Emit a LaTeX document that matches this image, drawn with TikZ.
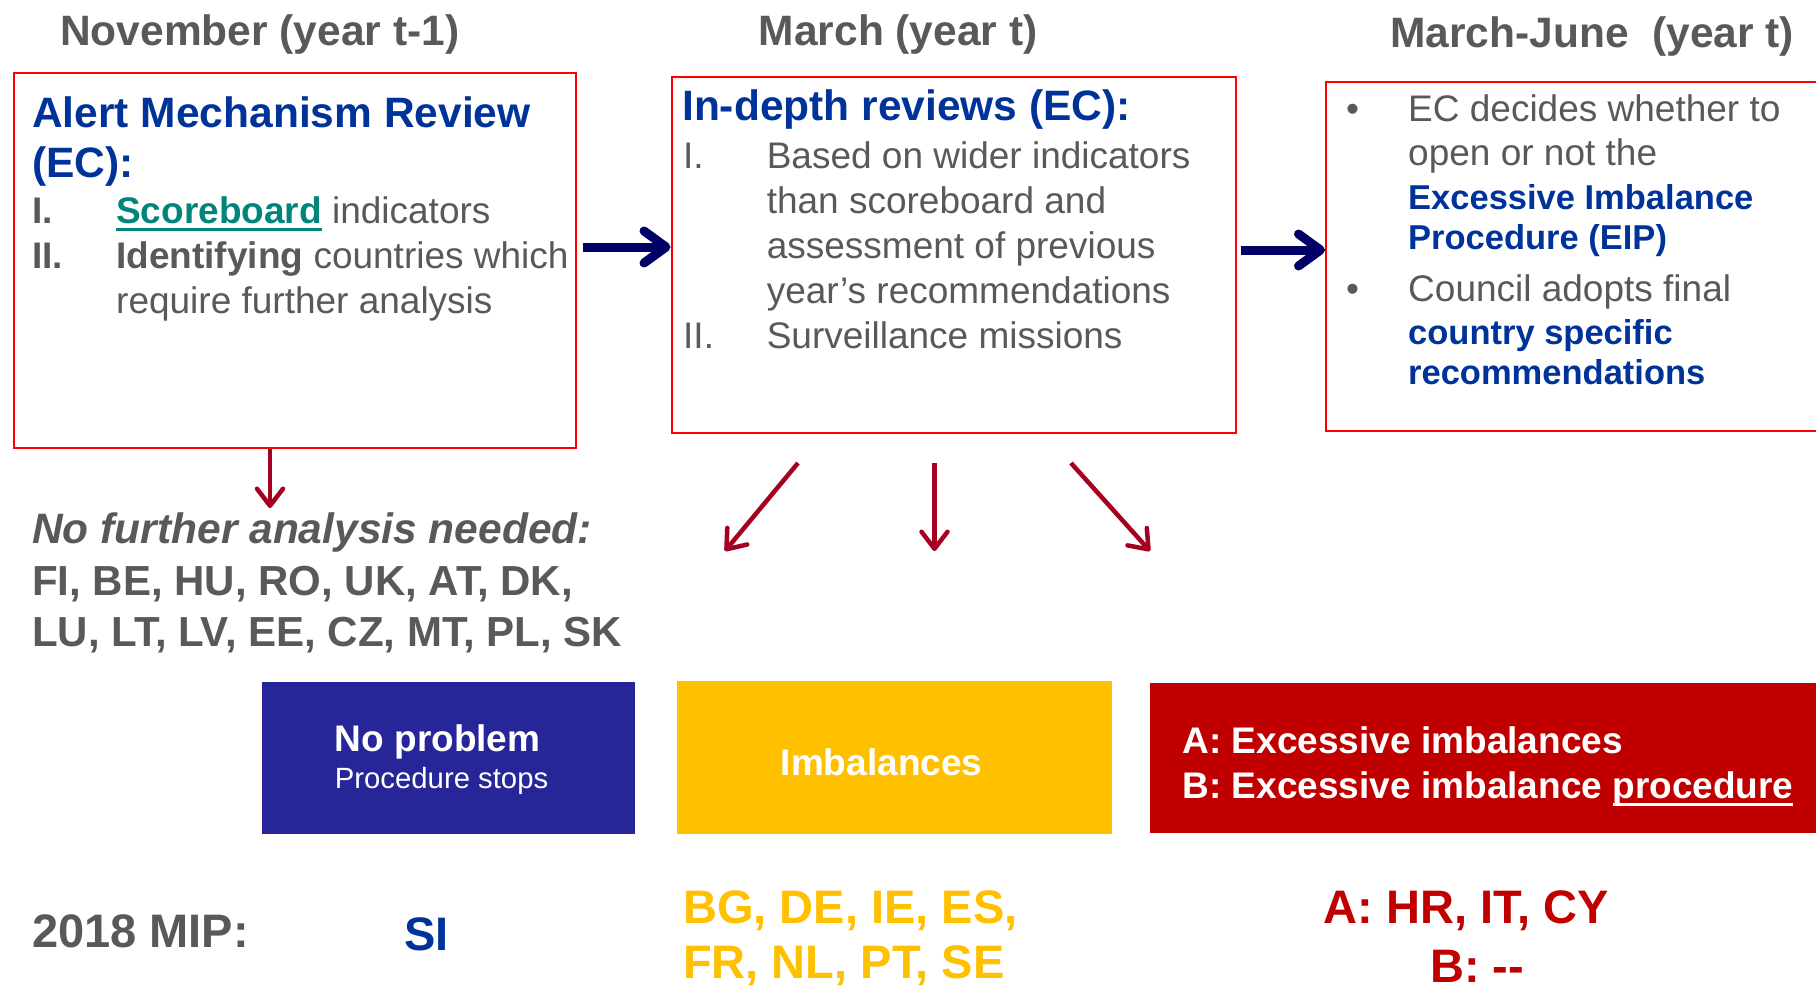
\documentclass[tikz,border=0pt]{standalone}
\usepackage{fontspec}
\setmainfont{Liberation Sans}
\usetikzlibrary{arrows.meta}
\definecolor{txtgray}{HTML}{595959}
\definecolor{hdblue}{HTML}{003399}
\definecolor{scteal}{HTML}{00857C}
\definecolor{navyarrow}{HTML}{000066}
\definecolor{darkredarrow}{HTML}{A50021}
\definecolor{boxred}{HTML}{FF0000}
\definecolor{npblue}{HTML}{262699}
\definecolor{imyellow}{HTML}{FFC000}
\definecolor{eired}{HTML}{C00000}
\newcommand{\fsz}[2]{\fontsize{#1}{#2}\selectfont}
\newcommand{\myul}[1]{\setbox0\hbox{#1}\rlap{\rule[-8pt]{\wd0}{3pt}}\box0}
\begin{document}
\begin{tikzpicture}[x=1pt,y=-1pt,
  frame/.style={draw=boxred, line width=2pt, inner sep=0, anchor=north west},
  fillbox/.style={inner sep=0, anchor=north west, draw=none},
  txt/.style={anchor=base west, inner sep=0, text=txtgray},
  ttl/.style={txt, font=\fsz{42.5}{50}\bfseries},
  hd/.style={txt, text=hdblue, font=\fsz{42.5}{50}\bfseries},
  body/.style={txt, font=\fsz{37}{45}},
  bodyb/.style={txt, font=\fsz{37}{45}\bfseries},
  bluebold/.style={txt, text=hdblue, font=\fsz{34.5}{40}\bfseries},
  big/.style={txt, font=\fsz{42}{51}\bfseries},
  mip/.style={txt, font=\fsz{47}{56}\bfseries},
  white37/.style={txt, text=white, font=\fsz{37}{45}\bfseries},
  navarr/.style={draw=navyarrow, line width=9pt, -{Straight Barb[length=22pt,width=32pt,round]}},
  redarr/.style={draw=darkredarrow, line width=4.5pt, -{Straight Barb[length=17pt,width=26pt,round]}}
]
\useasboundingbox (0,0) rectangle (1816,986);
\fill[white] (0,0) rectangle (1816,986);

% titles
\node[ttl] (t1) at (60,45) {November (year t-1)};
\node[ttl] (t2) at (758.6,45) {March (year t)};
\node[ttl] (t3) at (1390,47.5) {March-June\ \ (year t)};

% top boxes
\node[frame, minimum width=561.8pt, minimum height=375.2pt] (amr) at (12.7,71.8) {};
\node[frame, minimum width=564pt, minimum height=355.6pt] (idr) at (670.5,76.4) {};
\node[frame, minimum width=505pt, minimum height=349pt] (eip) at (1325,81) {};

% box 1 text
\node[hd] (a1) at (32,127) {Alert Mechanism Review};
\node[hd] (a2) at (32,177) {(EC):};
\node[bodyb] (a3n) at (32,223) {I.};
\node[body] (a3) at (116,223) {\textcolor{scteal}{\bfseries\myul{Scoreboard}} indicators};
\node[bodyb] (a4n) at (32,268.7) {II.};
\node[body] (a4) at (116,268.7) {\textbf{Identifying} countries which};
\node[body] (a5) at (116,313) {require further analysis};

% box 2 text
\node[hd] (b1) at (682,120.5) {In-depth reviews (EC):};
\node[body] (b2n) at (683,168) {I.};
\node[body] (b2) at (766.6,168) {Based on wider indicators};
\node[body] (b3) at (766.6,213) {than scoreboard and};
\node[body] (b4) at (766.6,258) {assessment of previous};
\node[body] (b5) at (766.6,303) {year’s recommendations};
\node[body] (b6n) at (683,348) {II.};
\node[body] (b6) at (766.6,348) {Surveillance missions};

% box 3 text
\node[body] (c1n) at (1346,121.6) {•};
\node[body] (c1) at (1408,121.6) {EC decides whether to};
\node[body] (c2) at (1408,165.6) {open or not the};
\node[bluebold] (c3) at (1408,209.6) {Excessive Imbalance};
\node[bluebold] (c4) at (1408,249) {Procedure (EIP)};
\node[body] (c5n) at (1346,301) {•};
\node[body] (c5) at (1408,301) {Council adopts final};
\node[bluebold] (c6) at (1408,344) {country specific};
\node[bluebold] (c7) at (1408,384.5) {recommendations};

% horizontal arrows
\coordinate (h1) at (0,247);
\coordinate (h2) at (0,250);
\draw[navarr, shorten <=6pt] (amr.east |- h1) -- (idr.west |- h1);
\draw[navarr, shorten <=4pt] (idr.east |- h2) -- (eip.west |- h2);

% red arrows
\coordinate (d0) at (270,508);
\draw[redarr] (amr.south -| d0) -- (d0);
\coordinate (s1) at (798,463);
\coordinate (e1) at (725,551);
\coordinate (s2) at (934.5,463);
\coordinate (e2) at (934.5,551);
\coordinate (s3) at (1071,463);
\coordinate (e3) at (1150,551);
\draw[redarr] (s1) -- (e1);
\draw[redarr] (s2) -- (e2);
\draw[redarr] (s3) -- (e3);

% left lower text
\node[txt, font=\fsz{42.5}{51}\bfseries\itshape] (n1) at (32,543) {No further analysis needed:};
\node[big] (n2) at (32,595) {FI, BE, HU, RO, UK, AT, DK,};
\node[big] (n3) at (32,646) {LU, LT, LV, EE, CZ, MT, PL, SK};

% result boxes
\node[fillbox, fill=npblue, minimum width=373pt, minimum height=152pt] (np) at (262,682) {};
\node[fillbox, fill=imyellow, minimum width=435pt, minimum height=153pt] (im) at (677,681) {};
\node[fillbox, fill=eired, minimum width=680pt, minimum height=150pt] (ex) at (1150,683) {};
\node[white37] (np1) at (334.7,751.6) {No problem};
\node[txt, text=white, font=\fsz{29.3}{35}] (np2) at (334.7,788.7) {Procedure stops};
\node[white37] (im1) at (780.6,775) {Imbalances};
\node[white37] (ex1) at (1182.5,753) {A: Excessive imbalances};
\node[white37] (ex2) at (1182.5,798) {B: Excessive imbalance \myul{procedure}};

% 2018 MIP
\node[mip] (m0) at (32,947) {2018 MIP:};
\node[mip, text=hdblue] (m1) at (404,950) {SI};
\node[mip, text=imyellow] (m2) at (683,923) {BG, DE, IE, ES,};
\node[mip, text=imyellow] (m3) at (683,978.6) {FR, NL, PT, SE};
\node[mip, text=eired] (m4) at (1323.6,923) {A: HR, IT, CY};
\node[mip, text=eired] (m5) at (1430,982) {B: -{}-};
\end{tikzpicture}
\end{document}
